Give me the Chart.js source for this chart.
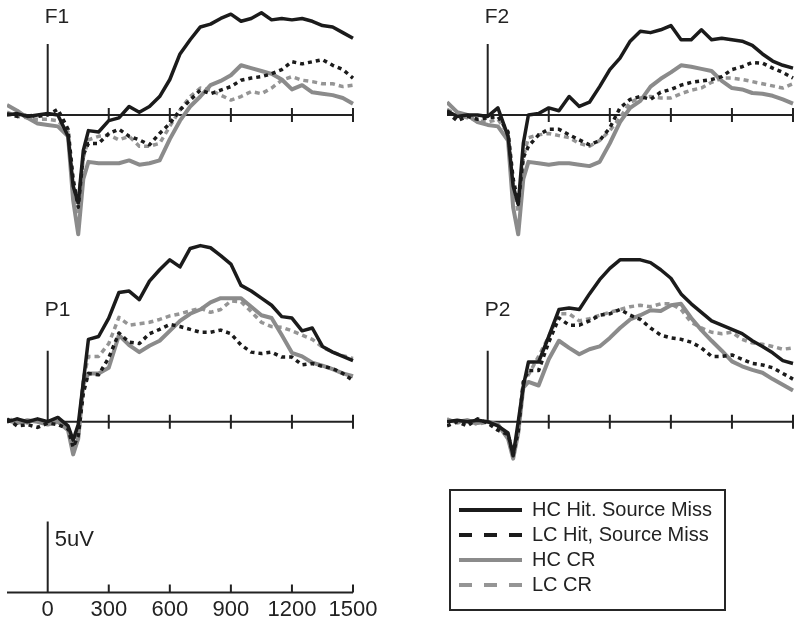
<!DOCTYPE html>
<html>
<head>
<meta charset="utf-8">
<title>ERP waveforms</title>
<script src="https://cdn.jsdelivr.net/npm/chart.js@4.4.1/dist/chart.umd.min.js"></script>
<style>
  body { margin: 0; background: #fff; }
  #page { position: relative; width: 800px; height: 626px; overflow: hidden; background: #fff; }
  #page canvas { position: absolute; }
  #legendBox { position: absolute; left: 449px; top: 489px; width: 273px; height: 118px; border: 2px solid #262626; }
  #legendBox canvas { left: 0; top: 4px; }
</style>
</head>
<body>
<div id="page">
  <canvas id="f1" width="350" height="240" style="left:7px;top:0px"></canvas>
  <canvas id="f2" width="350" height="240" style="left:447px;top:0px"></canvas>
  <canvas id="p1" width="350" height="230" style="left:7px;top:240px"></canvas>
  <canvas id="p2" width="350" height="230" style="left:447px;top:240px"></canvas>
  <canvas id="scale" width="400" height="116" style="left:0px;top:511px"></canvas>
  <div id="legendBox"><canvas id="legend" width="273" height="114"></canvas></div>
</div>
<script>
// time points (ms) and condition names
const TIMES = [-200, -150, -100, -50, 0, 50, 100, 125, 150, 175, 200, 250, 300, 350, 400, 450, 500,
  550, 600, 650, 700, 750, 800, 850, 900, 950, 1000, 1050, 1100, 1150, 1200, 1250, 1300, 1350, 1400, 1450, 1500];
const CONDITIONS = ['HC Hit. Source Miss', 'LC Hit, Source Miss', 'HC CR', 'LC CR'];
const X_TICKS = [0, 300, 600, 900, 1200, 1500];
const SCALE_BAR_UV = 5;
const SCALE_LABEL = '5uV';

// amplitudes (uV), one array per electrode and condition
const F1_HC_HIT = [0, 0.1, -0.1, 0, 0.1, 0, -1.5, -5.0, -6.2, -2.5, -1.1, -1.2, -0.4, -0.2, 0.6, 0.2, 0.6, 1.3, 2.5, 4.3, 5.3, 6.2, 6.4, 6.8, 7.1, 6.6, 6.8, 7.2, 6.7, 6.8, 6.7, 6.8, 6.6, 6.3, 6.2, 5.8, 5.4];
const F1_LC_HIT = [0.1, -0.1, 0, -0.1, 0, 0.4, -1.0, -4.5, -6.5, -2.8, -2.0, -2.0, -1.3, -1.0, -1.5, -1.75, -2.1, -1.3, -0.6, 0.35, 1.05, 1.75, 1.5, 1.75, 2.0, 2.45, 2.6, 2.7, 2.9, 3.2, 3.75, 3.6, 3.75, 3.9, 3.5, 3.2, 2.6];
const F1_HC_CR = [0.7, 0.3, -0.2, -0.6, -0.7, -0.8, -1.5, -6.0, -8.4, -4.5, -3.3, -3.4, -3.4, -3.4, -3.2, -3.5, -3.4, -3.2, -1.7, -0.4, 0.6, 1.3, 2.1, 2.4, 2.8, 3.5, 3.3, 3.1, 2.9, 2.5, 1.8, 2.1, 1.6, 1.5, 1.4, 1.2, 0.8];
const F1_LC_CR = [0.2, -0.1, -0.2, -0.3, -0.3, -0.4, -1.2, -5.0, -7.0, -3.0, -1.75, -1.5, -1.4, -1.75, -1.5, -2.2, -2.2, -2.0, -0.8, 0.35, 1.3, 1.9, 1.75, 1.4, 1.05, 1.3, 1.65, 1.5, 1.9, 2.45, 2.7, 2.45, 2.35, 2.2, 2.2, 2.0, 2.1];

const F2_HC_HIT = [0.3, -0.1, 0, 0, -0.1, 0.5, -1.5, -5.0, -6.3, -2.0, 0, 0.1, 0.5, 0.3, 1.3, 0.6, 0.9, 2.0, 3.2, 4.0, 5.2, 5.9, 5.8, 6.0, 6.3, 5.3, 5.3, 6.0, 5.3, 5.4, 5.3, 5.2, 4.9, 4.3, 3.8, 3.5, 3.3];
const F2_LC_HIT = [0.2, -0.4, -0.1, -0.3, -0.2, -0.1, -1.2, -4.5, -6.2, -3.0, -2.2, -1.4, -1.0, -1.0, -1.4, -1.75, -2.1, -1.8, -0.9, 0.5, 1.1, 1.3, 1.1, 1.6, 1.8, 2.1, 2.3, 2.4, 2.5, 2.7, 3.2, 3.4, 3.7, 3.65, 3.3, 3.0, 2.6];
const F2_HC_CR = [0.9, 0.2, 0, -0.5, -0.7, -0.8, -1.8, -6.5, -8.4, -4.5, -3.3, -3.4, -3.5, -3.4, -3.4, -3.5, -3.6, -3.3, -2.0, -0.5, 0.5, 1.0, 2.0, 2.55, 3.0, 3.5, 3.4, 3.25, 3.1, 2.4, 1.9, 1.8, 1.55, 1.5, 1.35, 1.1, 0.8];
const F2_LC_CR = [0.4, 0.0, -0.2, -0.4, -0.5, -0.3, -1.3, -5.0, -6.8, -3.0, -1.6, -1.4, -1.3, -1.45, -1.6, -2.0, -2.2, -1.8, -1.1, -0.2, 0.9, 1.2, 1.3, 1.2, 1.2, 1.5, 1.75, 1.9, 2.3, 2.6, 2.6, 2.5, 2.35, 2.2, 2.05, 1.9, 2.2];

const P1_HC_HIT = [0, 0.2, 0, 0.2, 0, 0.3, -0.3, -1.3, -0.2, 2.8, 5.8, 6.0, 7.3, 9.1, 9.2, 8.6, 9.9, 10.7, 11.4, 10.9, 12.2, 12.4, 12.25, 11.7, 11.1, 9.6, 9.2, 8.7, 8.2, 7.4, 7.3, 6.4, 6.6, 5.3, 4.9, 4.6, 4.3];
const P1_LC_HIT = [0.2, -0.3, -0.2, -0.4, -0.1, -0.2, -0.5, -1.8, -1.0, 2.0, 3.4, 3.3, 4.5, 6.25, 5.6, 5.5, 6.2, 6.5, 6.85, 6.7, 6.5, 6.3, 6.3, 6.45, 6.2, 5.4, 4.9, 4.8, 4.9, 4.55, 4.55, 4.0, 4.1, 3.9, 3.75, 3.4, 2.9];
const P1_HC_CR = [0.1, -0.1, 0.1, 0, -0.2, 0, -0.6, -2.3, -1.2, 2.6, 3.4, 3.4, 3.8, 6.1, 5.4, 4.9, 5.35, 5.7, 6.4, 7.1, 7.6, 7.9, 8.4, 8.7, 8.7, 8.7, 8.1, 7.5, 7.3, 6.1, 4.85, 4.6, 4.15, 3.95, 3.7, 3.4, 3.2];
const P1_LC_CR = [0.1, 0.2, -0.1, 0.1, -0.1, 0, -0.4, -2.0, -0.8, 3.0, 4.6, 4.6, 5.5, 7.35, 6.8, 6.9, 7.0, 7.2, 7.45, 7.6, 7.8, 8.0, 7.7, 7.9, 8.5, 8.45, 7.75, 7.0, 6.7, 6.65, 6.4, 6.1, 5.8, 5.25, 4.9, 4.65, 4.45];

const P2_HC_HIT = [0, 0.1, 0, 0.1, 0, -0.3, -0.8, -2.4, 0.0, 2.5, 4.2, 4.2, 6.0, 7.9, 8.0, 7.9, 9.0, 10.0, 10.8, 11.4, 11.4, 11.4, 11.2, 10.7, 10.1, 9.0, 8.3, 7.7, 7.1, 6.8, 6.5, 6.2, 5.7, 5.3, 4.85, 4.3, 4.1];
const P2_LC_HIT = [-0.3, 0.0, -0.3, 0.2, -0.1, -0.6, -0.9, -2.3, -0.7, 2.8, 3.6, 3.6, 5.6, 7.3, 6.8, 6.8, 7.1, 7.5, 7.6, 7.9, 7.5, 7.2, 6.6, 6.1, 5.9, 5.8, 5.6, 5.2, 4.6, 4.6, 4.7, 4.4, 4.1, 4.0, 3.8, 3.4, 3.0];
const P2_HC_CR = [0.1, 0, 0.1, -0.1, 0, -0.2, -1.2, -2.6, -0.8, 2.4, 2.8, 2.55, 4.4, 5.7, 5.2, 4.75, 5.1, 5.3, 5.9, 6.6, 7.2, 7.5, 7.85, 7.8, 8.2, 8.3, 7.3, 6.45, 5.7, 5.0, 4.25, 3.9, 3.65, 3.45, 3.0, 2.6, 2.2];
const P2_LC_CR = [0.2, -0.1, 0.1, -0.2, 0, -0.3, -1.0, -2.4, -0.5, 2.8, 3.3, 4.6, 6.0, 7.6, 7.6, 7.1, 7.25, 7.5, 7.7, 7.9, 8.1, 8.2, 8.1, 8.3, 8.3, 7.9, 7.0, 6.6, 6.3, 6.2, 6.3, 5.8, 5.55, 5.45, 5.3, 5.1, 5.2];

const FONT = "'Liberation Sans', Arial, Helvetica, sans-serif";
const TEXT_COLOR = '#222';
const AXIS_COLOR = '#222';
const PX_PER_UV = 71 / 5;

const STYLES = [
  { color: '#1b1b1b', width: 3.5, dash: [], legendDash: [] },
  { color: '#1b1b1b', width: 3.5, dash: [4, 4], legendDash: [13, 12] },
  { color: '#8b8b8b', width: 4, dash: [], legendDash: [] },
  { color: '#959595', width: 3.5, dash: [5, 4], legendDash: [13, 12] }
];

Chart.defaults.font.family = FONT;

// baseline, ticks, 0 ms bar and panel label, placed with the chart's own scales
const erpAxes = {
  id: 'erpAxes',
  beforeDatasetsDraw(chart, args, opts) {
    const { ctx, scales: { x, y } } = chart;
    const y0 = y.getPixelForValue(0);
    const x0 = x.getPixelForValue(0);
    ctx.save();
    ctx.strokeStyle = AXIS_COLOR;
    ctx.lineWidth = 2;
    ctx.beginPath();
    ctx.moveTo(x.left, y0);
    ctx.lineTo(x.right, y0);
    X_TICKS.filter(v => v > 0).forEach(v => {
      const px = x.getPixelForValue(v);
      ctx.moveTo(px, y0 - opts.tickUp);
      ctx.lineTo(px, y0 + opts.tickDown);
    });
    ctx.moveTo(x0, y0);
    ctx.lineTo(x0, y.getPixelForValue(SCALE_BAR_UV));
    ctx.stroke();
    ctx.fillStyle = TEXT_COLOR;
    ctx.font = opts.font;
    ctx.textAlign = 'left';
    ctx.textBaseline = 'middle';
    ctx.fillText(opts.label, x0 + opts.labelDx, y.getPixelForValue(opts.labelAt));
    ctx.restore();
  }
};

function makePanel(id, name, series, baseline, height, labelAt) {
  new Chart(document.getElementById(id), {
    type: 'line',
    data: {
      datasets: series.map((vals, i) => ({
        label: CONDITIONS[i],
        data: TIMES.map((t, k) => ({ x: t, y: vals[k] })),
        borderColor: STYLES[i].color,
        borderWidth: STYLES[i].width,
        borderDash: STYLES[i].dash,
        borderJoinStyle: 'round',
        pointRadius: 0,
        tension: 0,
        fill: false,
        clip: false
      }))
    },
    options: {
      responsive: false,
      animation: false,
      events: [],
      layout: { padding: { left: 0, right: 4, top: 0, bottom: 0 } },
      plugins: {
        legend: { display: false },
        tooltip: { enabled: false },
        erpAxes: { label: name, labelDx: -3, labelAt: labelAt, tickUp: 7, tickDown: 7, font: '21px ' + FONT }
      },
      scales: {
        x: { type: 'linear', min: -200, max: 1500, display: false },
        y: { min: -(height - baseline) / PX_PER_UV, max: baseline / PX_PER_UV, display: false }
      }
    },
    plugins: [erpAxes]
  });
}

makePanel('f1', 'F1', [F1_HC_HIT, F1_LC_HIT, F1_HC_CR, F1_LC_CR], 115, 240, 6.9);
makePanel('f2', 'F2', [F2_HC_HIT, F2_LC_HIT, F2_HC_CR, F2_LC_CR], 115, 240, 6.9);
makePanel('p1', 'P1', [P1_HC_HIT, P1_LC_HIT, P1_HC_CR, P1_LC_CR], 181.7, 230, 7.87);
makePanel('p2', 'P2', [P2_HC_HIT, P2_LC_HIT, P2_HC_CR, P2_LC_CR], 181.7, 230, 7.87);

// calibration panel: time axis with labels and the 5 uV bar
new Chart(document.getElementById('scale'), {
  type: 'line',
  data: { datasets: [] },
  options: {
    responsive: false,
    animation: false,
    events: [],
    layout: { padding: { left: 7, right: 47, top: 0, bottom: 0 } },
    plugins: {
      legend: { display: false },
      tooltip: { enabled: false },
      erpAxes: { label: SCALE_LABEL, labelDx: 7, labelAt: 3.7, tickUp: 8, tickDown: 0, font: '22px ' + FONT }
    },
    scales: {
      x: {
        type: 'linear', min: -200, max: 1500,
        grid: { display: false, drawTicks: false },
        border: { display: false },
        afterBuildTicks: axis => { axis.ticks = X_TICKS.map(v => ({ value: v })); },
        ticks: { autoSkip: false, maxRotation: 0, padding: 4, color: TEXT_COLOR, font: { size: 22 }, callback: v => String(v) }
      },
      y: { min: 0, max: (592.6 - 511) / PX_PER_UV, display: false }
    }
  },
  plugins: [erpAxes]
});

// legend
new Chart(document.getElementById('legend'), {
  type: 'line',
  data: {
    datasets: CONDITIONS.map((c, i) => ({
      label: c,
      data: [],
      borderColor: STYLES[i].color,
      borderWidth: 4,
      borderDash: STYLES[i].legendDash
    }))
  },
  options: {
    responsive: false,
    animation: false,
    events: [],
    layout: { padding: { left: 3, top: 3 } },
    scales: { x: { display: false }, y: { display: false } },
    plugins: {
      tooltip: { enabled: false },
      legend: {
        position: 'chartArea',
        align: 'start',
        labels: {
          usePointStyle: true,
          pointStyleWidth: 63,
          padding: 5,
          color: TEXT_COLOR,
          font: { size: 20 },
          generateLabels: chart => chart.data.datasets.map((ds, i) => ({
            text: ds.label,
            strokeStyle: ds.borderColor,
            fillStyle: ds.borderColor,
            lineWidth: ds.borderWidth,
            lineDash: ds.borderDash,
            pointStyle: 'line',
            fontColor: TEXT_COLOR,
            hidden: false,
            datasetIndex: i
          }))
        }
      }
    }
  }
});
</script>
</body>
</html>
